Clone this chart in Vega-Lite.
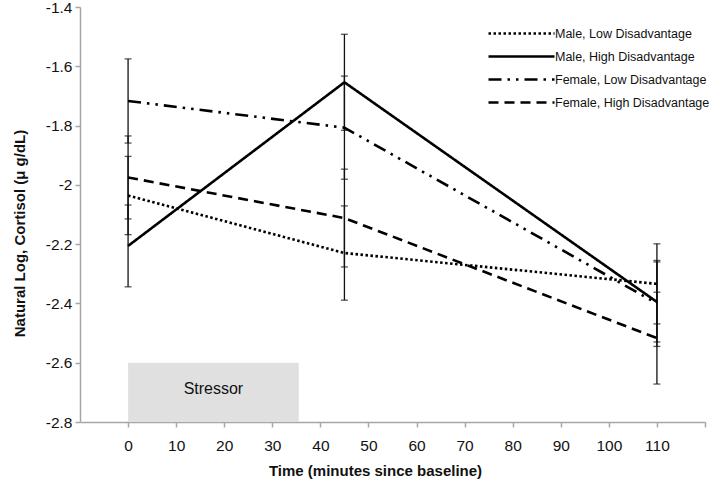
{
  "$schema": "https://vega.github.io/schema/vega-lite/v6.json",
  "width": 625,
  "height": 415,
  "autosize": {"type": "none"},
  "padding": {"left": 80, "top": 7, "right": 5, "bottom": 64},
  "config": {
    "view": {"stroke": null},
    "font": "Liberation Sans",
    "axis": {
      "grid": false,
      "domainColor": "#a6a6a6",
      "domainWidth": 1.5,
      "tickColor": "#a6a6a6",
      "tickWidth": 1.5,
      "tickSize": 5,
      "labelFont": "Liberation Sans",
      "labelFontSize": 15.5,
      "labelColor": "#111",
      "titleFont": "Liberation Sans",
      "titleFontSize": 15,
      "titleFontWeight": "bold",
      "titleColor": "#111"
    },
    "legend": {
      "labelFont": "Liberation Sans",
      "labelFontSize": 12.5,
      "labelColor": "#111",
      "labelLimit": 0
    }
  },
  "datasets": {
    "cortisol": [
      {"group": "Male, Low Disadvantage", "time": 0, "mean": -2.036, "err": 0.132},
      {"group": "Male, Low Disadvantage", "time": 45, "mean": -2.230, "err": 0.159},
      {"group": "Male, Low Disadvantage", "time": 110, "mean": -2.334, "err": 0.135},
      {"group": "Male, High Disadvantage", "time": 0, "mean": -2.206, "err": 0.138},
      {"group": "Male, High Disadvantage", "time": 45, "mean": -1.654, "err": 0.162},
      {"group": "Male, High Disadvantage", "time": 110, "mean": -2.395, "err": 0.135},
      {"group": "Female, Low Disadvantage", "time": 0, "mean": -1.717, "err": 0.142},
      {"group": "Female, Low Disadvantage", "time": 45, "mean": -1.807, "err": 0.174},
      {"group": "Female, Low Disadvantage", "time": 110, "mean": -2.400, "err": 0.145},
      {"group": "Female, High Disadvantage", "time": 0, "mean": -1.975, "err": 0.140},
      {"group": "Female, High Disadvantage", "time": 45, "mean": -2.112, "err": 0.165},
      {"group": "Female, High Disadvantage", "time": 110, "mean": -2.517, "err": 0.155}
    ],
    "stressor": [
      {"label": "Stressor", "start": 0, "end": 35.5, "mid": 17.75, "top": -2.6, "bottom": -2.8, "level": -2.69}
    ]
  },
  "layer": [
    {
      "data": {"name": "stressor"},
      "mark": {"type": "rect", "color": "#e0e0e0"},
      "encoding": {
        "x": {"field": "start", "type": "quantitative", "title": "Time (minutes since baseline)", "scale": {"domain": [-10, 120], "nice": false, "zero": false}},
        "x2": {"field": "end"},
        "y": {"field": "top", "type": "quantitative", "title": "Natural Log, Cortisol (μ g/dL)", "scale": {"domain": [-2.8, -1.4], "nice": false, "zero": false}},
        "y2": {"field": "bottom"}
      }
    },
    {
      "data": {"name": "stressor"},
      "mark": {"type": "text", "fontSize": 16, "color": "#111", "font": "Liberation Sans"},
      "encoding": {
        "x": {"field": "mid", "type": "quantitative", "title": "Time (minutes since baseline)"},
        "y": {"field": "level", "type": "quantitative", "title": "Natural Log, Cortisol (μ g/dL)"},
        "text": {"field": "label"}
      }
    },
    {
      "data": {"name": "cortisol"},
      "mark": {"type": "errorbar", "color": "#111", "thickness": 1.3, "ticks": {"size": 7, "thickness": 1.3}},
      "encoding": {
        "x": {"field": "time", "type": "quantitative", "title": "Time (minutes since baseline)"},
        "y": {"field": "mean", "type": "quantitative", "title": "Natural Log, Cortisol (μ g/dL)"},
        "yError": {"field": "err"},
        "detail": {"field": "group"}
      }
    },
    {
      "data": {"name": "cortisol"},
      "mark": {"type": "line", "color": "#000", "strokeWidth": 2.6, "strokeCap": "butt"},
      "encoding": {
        "x": {
          "field": "time", "type": "quantitative",
          "title": "Time (minutes since baseline)",
          "axis": {
            "values": [0, 10, 20, 30, 40, 50, 60, 70, 80, 90, 100, 110, 120],
            "labelExpr": "datum.value > 110 ? '' : '' + datum.value",
            "labelPadding": 11,
            "titlePadding": 10,
            "titleX": 295,
            "titleAlign": "center"
          }
        },
        "y": {
          "field": "mean", "type": "quantitative",
          "title": "Natural Log, Cortisol (μ g/dL)",
          "axis": {
            "values": [-2.8, -2.6, -2.4, -2.2, -2, -1.8, -1.6, -1.4],
            "labelExpr": "'' + datum.value",
            "labelPadding": 3,
            "titlePadding": 18,
            "titleY": 226,
            "titleAlign": "center"
          }
        },
        "strokeDash": {
          "field": "group", "type": "nominal",
          "scale": {
            "domain": ["Male, Low Disadvantage", "Male, High Disadvantage", "Female, Low Disadvantage", "Female, High Disadvantage"],
            "range": [[2.5, 2.5], [1, 0], [13, 6, 2.5, 6, 2.5, 6], [10, 6]]
          },
          "legend": {
            "title": null,
            "orient": "none",
            "legendX": 430,
            "legendY": 15,
            "symbolType": "M-3.3,0H3.3",
            "symbolSize": 400,
            "symbolStrokeWidth": 2.5,
            "symbolStrokeColor": "#000",
            "symbolFillColor": "transparent",
            "labelOffset": 22,
            "rowPadding": 5
          }
        }
      }
    }
  ]
}
